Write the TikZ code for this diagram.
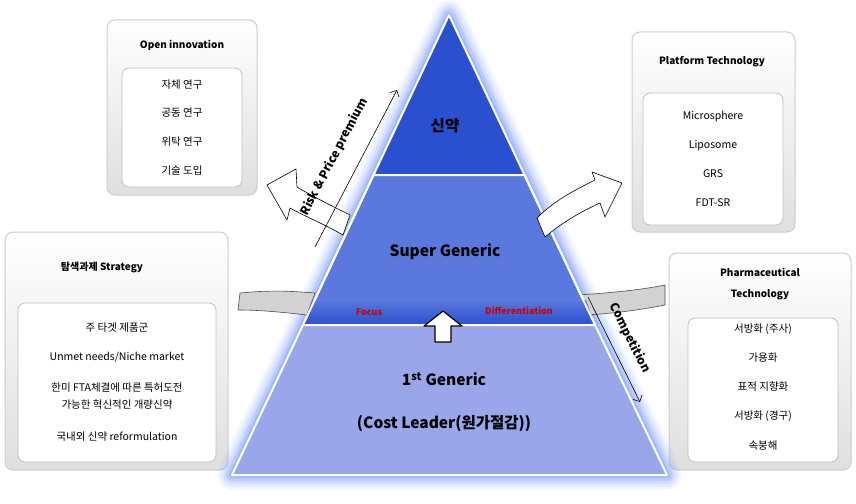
\documentclass[tikz,border=0pt]{standalone}
\usepackage{fontspec}
\setmainfont{Noto Sans CJK KR}
\usetikzlibrary{arrows.meta}
\definecolor{tA}{HTML}{2A4FCF}
\definecolor{tB}{HTML}{5A78DD}
\definecolor{tC}{HTML}{9AA6EA}
\definecolor{glow}{HTML}{7F9CFF}
\begin{document}
\begin{tikzpicture}[x=1pt,y=-1pt,
  outer/.style={rounded corners=8pt,draw=gray!40,line width=1pt,top color=white,bottom color=gray!25},
  inner/.style={rounded corners=7pt,draw=gray!50,fill=white,line width=0.8pt},
  head/.style={font=\fontsize{10}{13}\selectfont\bfseries,align=center},
  item/.style={font=\fontsize{10.5}{13}\selectfont},
  big/.style={font=\fontsize{15.5}{18}\selectfont\bfseries},
  hollow/.style={draw=black,fill=white,line width=0.6pt,line join=round},
  band/.style={draw=black!70,fill=gray!35,line width=0.6pt}]
\useasboundingbox (0,0) rectangle (856,503);
% boxes
\draw[outer] (107,20) rectangle (257,195);
\draw[inner] (122,68) rectangle (242,187);
\node[head] (oi) at (182,45) {Open innovation};
\node[item] (o1) at (182,85) {자체 연구};
\node[item] (o2) at (182,113) {공동 연구};
\node[item] (o3) at (182,142) {위탁 연구};
\node[item] (o4) at (182,171) {기술 도입};
\draw[outer] (632,32) rectangle (795,232);
\draw[inner] (643,93) rectangle (783,225);
\node[head] (pt) at (712,62) {Platform Technology};
\node[item] (p1) at (713,117) {Microsphere};
\node[item] (p2) at (713,146) {Liposome};
\node[item] (p3) at (713,174) {GRS};
\node[item] (p4) at (713,203) {FDT-SR};
\draw[outer] (5,232) rectangle (228,470);
\draw[inner] (18,303) rectangle (216,462);
\node[head] (ts) at (102,267) {탐색과제 Strategy};
\node[item] (s1) at (117,328) {주 타겟 제품군};
\node[item] (s2) at (117,357) {Unmet needs/Niche market};
\node[item,align=center,font=\fontsize{10.5}{17}\selectfont] (s3) at (117,396) {한미 FTA체결에 따른 특허도전\\가능한 혁신적인 개량신약};
\node[item] (s4) at (117,437) {국내외 신약 reformulation};
\draw[outer] (669,253) rectangle (851,470);
\draw[inner] (688,318) rectangle (838,462);
\node[head,font=\fontsize{10}{21}\selectfont\bfseries] (ph) at (760,284) {Pharmaceutical\\Technology};
\node[item] (r1) at (763,329) {서방화 (주사)};
\node[item] (r2) at (763,358) {가용화};
\node[item] (r3) at (763,387) {표적 지향화};
\node[item] (r4) at (763,416) {서방화 (경구)};
\node[item] (r5) at (763,446) {속붕해};
% glow
\foreach \w/\o in {30/0.08,24/0.12,18/0.18,12/0.28,6/0.45}
  \draw[glow,opacity=\o,line width=\w pt,line join=round] (449,15) -- (232,475) -- (667,475) -- cycle;
% bands
\draw[band] (240,293) .. controls (270,290) and (290,291) .. (315,293) -- (307,315) .. controls (280,312) and (260,310) .. (238,310) -- cycle;
\draw[band] (577,295) .. controls (610,293) and (640,290) .. (665,285) -- (665,305) .. controls (640,310) and (610,314) .. (583,315) -- cycle;
% pyramid
\draw[white,line width=2pt,fill=tA,line join=round] (449,15) -- (373.5,175) -- (524.5,175) -- cycle;
\draw[white,line width=2pt,fill=tB,line join=round] (373.5,175) -- (303,325) -- (595,325) -- (524.5,175) -- cycle;
\shade[top color=tB,bottom color=tA] (312,300) -- (303,325) -- (595,325) -- (586,300) -- cycle;
\draw[white,line width=2pt,line join=round] (373.5,175) -- (303,325) -- (595,325) -- (524.5,175);
\draw[white,line width=2pt,fill=tC,line join=round] (303,325) -- (232,475) -- (667,475) -- (595,325) -- cycle;
\node[big] (t1) at (445,126) {신약};
\node[big] (t2) at (445,252) {Super Generic};
\node[font=\fontsize{9}{11}\selectfont\bfseries,text=red!80!black] (fo) at (369,312) {Focus};
\node[font=\fontsize{9}{11}\selectfont\bfseries,text=red!80!black] (di) at (519,311) {Differentiation};
\node[big] (t3) at (444,379) {1\textsuperscript{st} Generic};
\node[big] (t4) at (444,424) {(Cost Leader(원가절감))};
% up arrow
\draw[hollow,line width=1.2pt] (435,342) -- (435,326) -- (424,326) -- (443,311) -- (462,326) -- (451,326) -- (451,342) -- cycle;
% hollow curved arrows
\draw[hollow] (343,235) .. controls (320,222) and (300,214) .. (290,208) -- (287,220) -- (267,185) -- (296,169) -- (297,187) .. controls (310,195) and (330,205) .. (350,215) -- cycle;
\draw[hollow] (545,237) .. controls (565,220) and (585,210) .. (600,203) -- (605,217) -- (622,183) -- (592,172) -- (595,180) .. controls (575,190) and (555,200) .. (537,218) -- cycle;
% thin arrows
\coordinate (ra) at (315,247); \coordinate (rb) at (397,90);
\draw[-{Straight Barb[length=5pt]},line width=0.6pt] (ra) -- (rb);
\node[font=\fontsize{12}{14}\selectfont\bfseries,rotate=62.4] (rk) at (334,157) {Risk \& Price premium};
\coordinate (ca) at (588,297); \coordinate (cb) at (640,402);
\draw[-{Straight Barb[length=5pt]},line width=0.6pt] (ca) -- (cb);
\node[font=\fontsize{12}{14}\selectfont\bfseries,rotate=-63.6] (cp) at (630,338) {Competition};
\end{tikzpicture}
\end{document}
